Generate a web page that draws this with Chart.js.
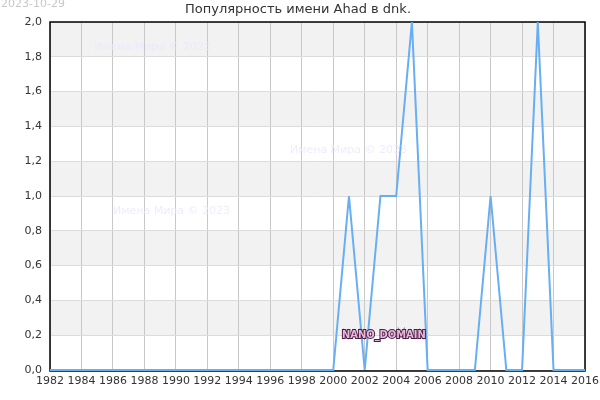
<!DOCTYPE html>
<html>
<head>
<meta charset="utf-8">
<script src="https://cdn.jsdelivr.net/npm/chart.js@4"></script>
<style>
  body { margin: 0; background: #fff; }
  #wrap { width: 600px; height: 400px; position: relative; }
</style>
</head>
<body>
<div id="wrap"><canvas id="nameChart" width="600" height="400"></canvas></div>
<script>
const years = [1982, 1983, 1984, 1985, 1986, 1987, 1988, 1989, 1990, 1991, 1992, 1993, 1994, 1995, 1996, 1997, 1998, 1999, 2000,
  2001, 2002, 2003, 2004, 2005, 2006, 2007, 2008, 2009, 2010, 2011, 2012, 2013, 2014, 2015, 2016];
const counts = [0, 0, 0, 0, 0, 0, 0, 0, 0, 0, 0, 0, 0, 0, 0, 0, 0, 0, 0,
  1, 0, 1, 1, 2, 0, 0, 0, 0, 1, 0, 0, 2, 0, 0, 0];
const titleText = "Популярность имени Ahad в dnk.";
const dateText = "2023-10-29";
const watermark = "Имена Мира © 2023";

const fmt = (v) => v.toFixed(1).replace(".", ",");

// gray bands, frame and texts
const decor = {
  id: "decor",
  beforeDraw(chart) {
    const c = chart.ctx;
    const area = chart.chartArea;
    const y = chart.scales.y;
    c.save();
    c.fillStyle = "#f2f2f2";
    for (let v = 0.2; v < 2; v += 0.4) {
      const top = y.getPixelForValue(v + 0.2);
      const bot = y.getPixelForValue(v);
      c.fillRect(area.left, top, area.right - area.left, bot - top);
    }
    c.restore();
  },
  beforeDatasetsDraw(chart) {
    const c = chart.ctx;
    const area = chart.chartArea;
    c.save();
    c.strokeStyle = "#000";
    c.lineWidth = 1.5;
    c.strokeRect(area.left, area.top, area.right - area.left, area.bottom + 1 - area.top);
    c.restore();
  },
  afterDraw(chart) {
    const c = chart.ctx;
    c.save();
    c.font = "13px 'DejaVu Sans'";
    c.fillStyle = "#333";
    c.textAlign = "center";
    c.textBaseline = "middle";
    c.fillText(titleText, 298, 10);

    c.font = "11px 'DejaVu Sans'";
    c.fillStyle = "#c8c8c8";
    c.textAlign = "left";
    c.fillText(dateText, 1, 4);

    c.fillStyle = "rgba(232, 232, 252, 0.8)";
    c.font = "11px 'DejaVu Sans'";
    c.fillText(watermark, 94, 47);
    c.fillText(watermark, 290, 150);
    c.fillText(watermark, 113, 211);

    c.font = "bold 11px 'DejaVu Sans Condensed', 'DejaVu Sans'";
    c.lineWidth = 2;
    c.strokeStyle = "#4a1d44";
    c.strokeText("NANO_DOMAIN", 342, 335);
    c.fillStyle = "#e8b8dc";
    c.fillText("NANO_DOMAIN", 342, 335);
    c.restore();
  }
};

new Chart(document.getElementById("nameChart"), {
  type: "line",
  data: {
    datasets: [{
      data: years.map((yr, i) => ({ x: yr, y: counts[i] })),
      borderColor: "#68aef2",
      borderWidth: 2,
      pointRadius: 0,
      tension: 0,
      fill: false,
      clip: { left: 0, right: 0, top: 0, bottom: 2 }
    }]
  },
  options: {
    responsive: false,
    animation: false,
    layout: { padding: { top: 22, right: 15, left: 0, bottom: 0 } },
    plugins: { legend: { display: false }, title: { display: false }, tooltip: { enabled: false } },
    scales: {
      x: {
        type: "linear",
        min: 1982,
        max: 2016,
        afterFit: (s) => { s.height = 30; s.paddingRight = 0; s.paddingLeft = 0; },
        ticks: { stepSize: 2, color: "#333", font: { family: "DejaVu Sans", size: 11 }, padding: 5, maxRotation: 0, callback: (v) => String(v) },
        grid: { color: "#c8c8c8", drawTicks: false },
        border: { display: false }
      },
      y: {
        min: 0,
        max: 2,
        afterFit: (s) => { s.width = 50; s.paddingTop = 0; s.paddingBottom = 0; },
        ticks: { stepSize: 0.2, color: "#333", font: { family: "DejaVu Sans", size: 11 }, padding: 8, callback: (v) => fmt(v) },
        grid: { color: "#dcdcdc", drawTicks: false },
        border: { display: false }
      }
    }
  },
  plugins: [decor]
});
</script>
</body>
</html>
